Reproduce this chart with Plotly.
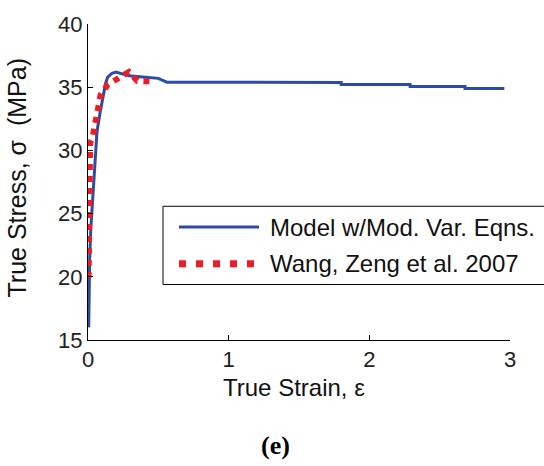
import plotly.graph_objects as go

# Model prediction with modified variable equations
model_strain = [0.005, 0.008, 0.012, 0.02, 0.03, 0.04, 0.05, 0.064, 0.086, 0.107, 0.125, 0.14,
                0.17, 0.2, 0.25, 0.29, 0.39, 0.5, 0.56, 1.8, 1.8, 2.29, 2.29, 2.68, 2.68, 2.96]
model_stress = [16.0, 19.0, 21.5, 23.8, 25.5, 27.0, 28.6, 31.5, 33.0, 34.4, 35.3, 35.8,
                36.1, 36.2, 36.0, 35.9, 35.8, 35.7, 35.4, 35.38, 35.22, 35.22, 35.06, 35.06,
                34.9, 34.9]

# Experimental data, Wang, Zeng et al. 2007
exp_strain = [0.004, 0.005, 0.007, 0.015, 0.03, 0.05, 0.07, 0.09, 0.14, 0.2, 0.25, 0.29,
              0.35, 0.46]
exp_stress = [19.9, 25.0, 29.7, 30.6, 30.9, 32.2, 33.4, 34.4, 35.2, 35.6, 35.9, 36.2,
              35.5, 35.45]

x_ticks = [0, 1, 2, 3]
y_ticks = [15, 20, 25, 30, 35, 40]

legend_names = ["Model w/Mod. Var. Eqns.", "Wang, Zeng et al. 2007"]

BLUE = "#2b4ba6"
RED = "#f01c24"
FONT = "Liberation Sans, Arial, sans-serif"

fig = go.Figure()
fig.add_trace(go.Scatter(x=model_strain, y=model_stress, mode="lines",
                         line=dict(color=BLUE, width=3), name=legend_names[0],
                         showlegend=False))
fig.add_trace(go.Scatter(x=exp_strain, y=exp_stress, mode="lines",
                         line=dict(color=RED, width=6, dash="6px,6px"), name=legend_names[1],
                         showlegend=False))

L, R, T, B = 88, 34, 21, 126
W, H = 544, 466
pw, ph = W - L - R, H - T - B

def px(xp):
    return (xp - L) / pw

def py(yp):
    return (H - B - yp) / ph

axis_common = dict(showline=True, linecolor="black", linewidth=1, ticks="inside",
                   ticklen=5, tickcolor="black", showgrid=False, zeroline=False,
                   mirror=False, tickfont=dict(family=FONT, size=22, color="#222"))

fig.update_layout(
    width=W, height=H, margin=dict(l=L, r=R, t=T, b=B),
    paper_bgcolor="white", plot_bgcolor="white",
    xaxis=dict(range=[0, 3], tickvals=x_ticks, **axis_common),
    yaxis=dict(range=[15, 40], tickvals=y_ticks, **axis_common),
    showlegend=False,
)

# Legend box and samples
shapes = [
    dict(type="rect", xref="paper", yref="paper", x0=px(163), x1=px(560), y0=py(284), y1=py(205),
         line=dict(color="black", width=1), fillcolor="white", layer="above"),
    dict(type="line", xref="paper", yref="paper", x0=px(179), x1=px(259), y0=py(226), y1=py(226),
         line=dict(color=BLUE, width=3), layer="above"),
    dict(type="line", xref="paper", yref="paper", x0=px(179), x1=px(259), y0=py(263), y1=py(263),
         line=dict(color=RED, width=7, dash="7px,10px"), layer="above"),
]
fig.update_layout(shapes=shapes)

annotations = [
    dict(text=legend_names[0], x=px(268), y=py(226), xanchor="left", yanchor="middle", size=24),
    dict(text=legend_names[1], x=px(268), y=py(263), xanchor="left", yanchor="middle", size=24),
    dict(text="True Strain, ε", x=px(294), y=py(388), xanchor="center", yanchor="middle",
         size=24),
    dict(text="True Stress, σ  (MPa)", x=px(17), y=py(176), xanchor="center",
         yanchor="middle", textangle=-90, size=25),
]
for a in annotations:
    size = a.pop("size")
    a.update(xref="paper", yref="paper", showarrow=False,
             font=dict(family=FONT, size=size, color="#111"))
annotations.append(dict(text="<b>(e)</b>", x=px(275), y=py(446), xref="paper", yref="paper",
                        showarrow=False, xanchor="center", yanchor="middle",
                        font=dict(family="Liberation Serif, Times New Roman, serif", size=26,
                                  color="black")))
fig.update_layout(annotations=annotations)

fig.write_html("out.html")
